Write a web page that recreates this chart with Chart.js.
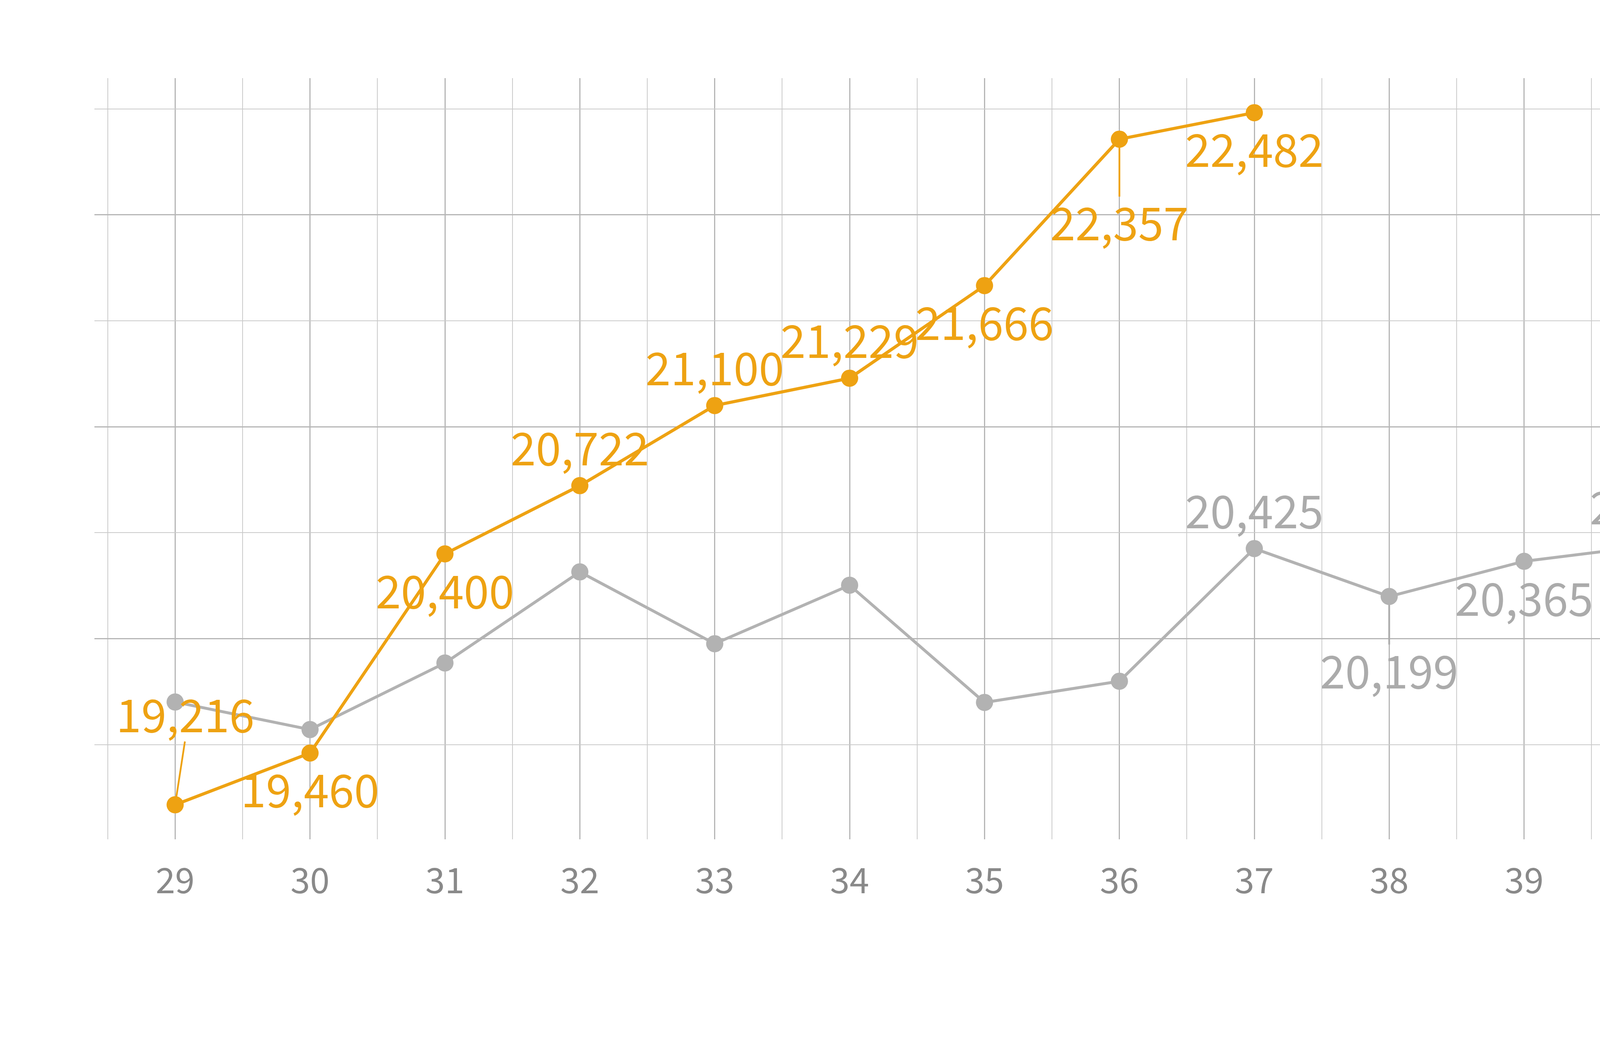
<!DOCTYPE html>
<html>
<head>
<meta charset="utf-8">
<script src="https://cdn.jsdelivr.net/npm/chart.js@4.4.1/dist/chart.umd.min.js"></script>
<style>
html,body{margin:0;padding:0;background:#ffffff;}
canvas{display:block;}
</style>
</head>
<body>
<canvas id="c" width="5000" height="2700" style="width:5000px;height:2700px"></canvas>
<script>
// ---------- data ----------
const categories = [29, 30, 31, 32, 33, 34, 35, 36, 37, 38, 39, 40, 41];
const orangeValues = [19216, 19460, 20400, 20722, 21100, 21229, 21666, 22357, 22482, null, null, null, null];
const greyValues = [19701, 19571, 19885, 20315, 19976, 20252, 19699, 19799, 20425, 20199, 20365, 20444, 20047];
const yTickValues = [19500, 20000, 20500, 21000, 21500, 22000, 22500];
const xTickLabels = categories.map(String);
const unitLabel = '단위: 원';

// ---------- styles ----------
const ORANGE = '#EEA212';
const GREY = '#B2B2B2';
const GREY_TEXT = '#ABABAB';
const TICK_TEXT = '#898989';
const GRID_MAJOR = '#B6B6B6';
const GRID_MINOR = '#CACACA';
const FONT = "'Noto Sans CJK KR', 'Noto Sans', sans-serif";

// label placement per point (style only): dx, dy offsets in px, leader line flag
const A = {dx: 0, dy: -96};
const B = {dx: 0, dy: 95};
const orangePlacement = [
  {dx: 26, dy: -230, leader: true}, B, B, A, A, A, B, {dx: 0, dy: 215, leader: true}, B,
  null, null, null, null
];
const greyPlacement = [
  null, null, null, null, null, null, null, null,
  A, {dx: 0, dy: 191, leader: true}, B, A, {dx: -22, dy: -98}
];

const toPoints = vals => categories.map((c, i) => ({x: c, y: vals[i]}));

const labelPlugin = {
  id: 'valueLabels',
  beforeDatasetsDraw(chart) {
    const ctx = chart.ctx;
    chart.data.datasets.forEach((ds, di) => {
      const meta = chart.getDatasetMeta(di);
      meta.data.forEach((pt, i) => {
        const p = ds.placement[i];
        if (!p || !p.leader || ds.data[i].y == null) return;
        const lx = pt.x + p.dx;
        const ly = pt.y + p.dy;
        const endY = p.dy > 0 ? ly - 68 : ly + 68;
        ctx.save();
        ctx.strokeStyle = ds.labelColor;
        ctx.lineWidth = 4.5;
        ctx.beginPath();
        ctx.moveTo(pt.x, pt.y);
        ctx.lineTo(lx - (p.dx ? 1 : 0), endY);
        ctx.stroke();
        ctx.restore();
      });
    });
  },
  afterDatasetsDraw(chart) {
    const ctx = chart.ctx;
    chart.data.datasets.forEach((ds, di) => {
      const meta = chart.getDatasetMeta(di);
      meta.data.forEach((pt, i) => {
        const p = ds.placement[i];
        const v = ds.data[i].y;
        if (!p || v == null) return;
        ctx.save();
        ctx.font = '400 116px ' + FONT;
        ctx.fillStyle = ds.labelColor;
        ctx.textAlign = 'center';
        ctx.textBaseline = 'middle';
        ctx.fillText(v.toLocaleString('en-US'), pt.x + p.dx, pt.y + p.dy);
        ctx.restore();
      });
    });
  },
  afterDraw(chart) {
    const ctx = chart.ctx;
    const area = chart.chartArea;
    ctx.save();
    ctx.font = '400 86px ' + FONT;
    ctx.fillStyle = TICK_TEXT;
    ctx.textAlign = 'right';
    ctx.textBaseline = 'middle';
    ctx.fillText(unitLabel, area.right + 25, area.bottom + 278);
    ctx.restore();
  }
};

const isMajorX = v => categories.includes(v);
const isMajorY = v => v % 1000 === 0;

const yAxisBase = {
  type: 'linear',
  min: 19053,
  max: 22645,
  afterBuildTicks: ax => { ax.ticks = yTickValues.map(v => ({value: v})); },
  ticks: {display: false},
  border: {display: false},
};

new Chart(document.getElementById('c'), {
  type: 'line',
  data: {
    datasets: [
      {
        data: toPoints(orangeValues),
        borderColor: ORANGE,
        backgroundColor: ORANGE,
        pointBackgroundColor: ORANGE,
        pointBorderWidth: 0,
        pointRadius: 22,
        borderWidth: 8,
        tension: 0,
        spanGaps: false,
        placement: orangePlacement,
        labelColor: ORANGE
      },
      {
        data: toPoints(greyValues),
        borderColor: GREY,
        backgroundColor: GREY,
        pointBackgroundColor: GREY,
        pointBorderWidth: 0,
        pointRadius: 22,
        borderWidth: 7.5,
        tension: 0,
        placement: greyPlacement,
        labelColor: GREY_TEXT
      }
    ]
  },
  options: {
    responsive: false,
    animation: false,
    devicePixelRatio: 1,
    layout: {padding: {left: 241.7, right: 201, top: 200, bottom: 344}},
    plugins: {legend: {display: false}, tooltip: {enabled: false}},
    scales: {
      x: {
        type: 'linear',
        position: 'bottom',
        min: categories[0] - 0.5,
        max: categories[categories.length - 1] + 0.5,
        afterBuildTicks: ax => {
          const t = [];
          categories.forEach(c => { t.push({value: c - 0.5}); t.push({value: c}); });
          t.push({value: categories[categories.length - 1] + 0.5});
          ax.ticks = t;
        },
        ticks: {
          autoSkip: false,
          maxRotation: 0,
          padding: 50,
          color: TICK_TEXT,
          font: {family: FONT, size: 90, weight: '400'},
          callback: v => { const i = categories.indexOf(v); return i >= 0 ? xTickLabels[i] : ''; }
        },
        grid: {
          drawTicks: false,
          color: c => (c.tick && isMajorX(c.tick.value)) ? GRID_MAJOR : GRID_MINOR,
          lineWidth: c => (c.tick && isMajorX(c.tick.value)) ? 3 : 2
        },
        border: {display: false}
      },
      y: Object.assign({}, yAxisBase, {
        position: 'left',
        grid: {
          drawTicks: true,
          tickLength: 34,
          color: c => (c.tick && isMajorY(c.tick.value)) ? GRID_MAJOR : GRID_MINOR,
          lineWidth: c => (c.tick && isMajorY(c.tick.value)) ? 3 : 2
        }
      }),
      y2: Object.assign({}, yAxisBase, {
        position: 'right',
        grid: {
          drawOnChartArea: false,
          drawTicks: true,
          tickLength: 34,
          color: c => (c.tick && isMajorY(c.tick.value)) ? GRID_MAJOR : GRID_MINOR,
          lineWidth: c => (c.tick && isMajorY(c.tick.value)) ? 3 : 2
        }
      })
    }
  },
  plugins: [labelPlugin]
});
</script>
</body>
</html>
